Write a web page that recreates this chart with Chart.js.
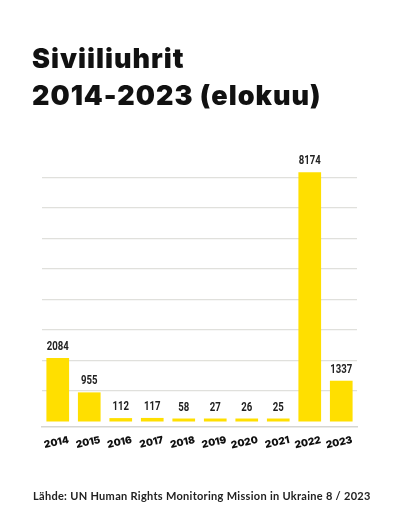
<!DOCTYPE html>
<html lang="fi">
<head>
<meta charset="utf-8">
<script src="https://cdn.jsdelivr.net/npm/chart.js@4"></script>
<style>
    html, body { margin: 0; padding: 0; background: #fff; }
    body { width: 400px; height: 519px; position: relative; overflow: hidden; }
    #title {
        position: absolute; left: 32px; top: 40px; margin: 0;
        font-family: Inter, sans-serif; font-weight: 900; font-size: 27px;
        line-height: 37px; color: #111; letter-spacing: 1px;
    }
    #source {
        position: absolute; left: 33px; top: 489px; margin: 0;
        font-family: Lato, sans-serif; font-weight: 700; font-size: 11px;
        color: #222; white-space: nowrap; letter-spacing: 0.3px;
    }
    #wrap { position: absolute; left: 0; top: 0; width: 400px; height: 519px; }
</style>
</head>
<body>
<div id="wrap"><canvas id="chart"></canvas></div>
<h1 id="title">Siviiliuhrit<br>2014-2023 (elokuu)</h1>
<p id="source">Lähde: UN Human Rights Monitoring Mission in Ukraine 8 / 2023</p>
<script>
const years = ['2014', '2015', '2016', '2017', '2018', '2019', '2020', '2021', '2022', '2023'];
const victims = [2084, 955, 112, 117, 58, 27, 26, 25, 8174, 1337];
const gridValues = [1000, 2000, 3000, 4000, 5000, 6000, 7000, 8000];

// values above the bars, narrow like in the original
const barLabels = {
    id: 'barLabels',
    afterDatasetsDraw(chart) {
        const ctx = chart.ctx;
        const meta = chart.getDatasetMeta(0);
        meta.data.forEach((bar, i) => {
            ctx.save();
            ctx.translate(bar.x, bar.y - 5);
            ctx.scale(0.8, 1);
            ctx.font = 'bold 12px Roboto, sans-serif';
            ctx.fillStyle = '#222';
            ctx.textAlign = 'center';
            ctx.textBaseline = 'bottom';
            ctx.fillText(String(chart.data.datasets[0].data[i]), 0, 0);
            ctx.restore();
        });
    }
};

new Chart(document.getElementById('chart'), {
    type: 'bar',
    data: {
        labels: years,
        datasets: [{
            data: victims,
            backgroundColor: '#FFDF00',
            borderWidth: 0,
            barPercentage: 0.72,
            categoryPercentage: 1,
            minBarLength: 3
        }]
    },
    options: {
        responsive: true,
        maintainAspectRatio: false,
        animation: false,
        layout: {padding: {top: 147, left: 42, right: 43, bottom: 52}},
        plugins: {
            legend: {display: false},
            tooltip: {enabled: false}
        },
        scales: {
            x: {
                grid: {display: false},
                border: {display: true, color: '#d6d6d2', width: 1.5},
                afterFit(scale) { scale.height = 40; },
                ticks: {
                    minRotation: 12,
                    maxRotation: 12,
                    labelOffset: 11,
                    padding: -1,
                    color: '#111',
                    font: {family: 'Inter, sans-serif', weight: '900', size: 10}
                }
            },
            y: {
                min: -180,
                max: 9000,
                afterBuildTicks(scale) {
                    scale.ticks = gridValues.map(v => ({value: v}));
                },
                ticks: {display: false},
                border: {display: false},
                grid: {color: '#e0e0dc', lineWidth: 1.2, drawTicks: false}
            }
        }
    },
    plugins: [barLabels]
});
</script>
</body>
</html>
